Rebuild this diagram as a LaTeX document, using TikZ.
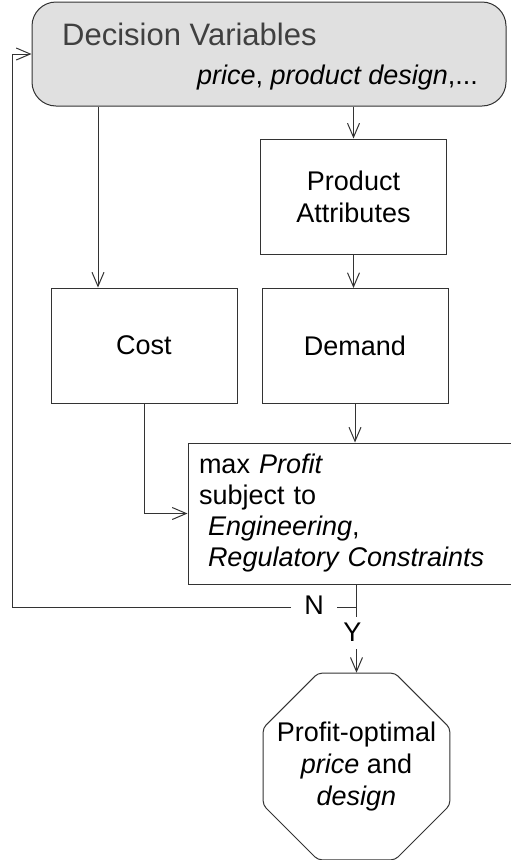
\documentclass[tikz,border=0pt]{standalone}
\usepackage{fontspec}
\setmainfont{Liberation Sans}
\usetikzlibrary{positioning,arrows.meta,shapes.geometric}

\tikzset{
  box/.style={draw=black!80, line width=1pt, rectangle, minimum width=186pt, minimum height=115pt,
    align=center, font=\fontsize{27}{32}\selectfont},
  lbl/.style={font=\fontsize{27}{32}\selectfont},
  arr/.style={draw=black!80, line width=1pt, -{Straight Barb[length=14pt,width=12pt]}},
  conn/.style={draw=black!80, line width=1pt}
}

\begin{document}
\begin{tikzpicture}[x=1pt,y=-1pt]
\useasboundingbox (0,0) rectangle (511,860);

% decision variables
\node[draw=black!80, fill=black!12, line width=1pt, rounded corners=24pt,
  minimum width=474pt, minimum height=104pt] (dv) at (269,54) {};
\node[anchor=base west, inner sep=0pt, text=black!75, font=\fontsize{31}{36}\selectfont]
  (dvtitle) at (62,45) {Decision Variables};
\node[anchor=base west, inner sep=0pt, lbl] (dvvars) at (197,84)
  {\textit{price}, \textit{product design},...};

% model boxes
\node[box] (pa) at (353.5,196.5) {Product\\Attributes};
\node[box] (cost) at (144,345.5) {Cost};
\node[box] (demand) at (355,346) {Demand};
\node[box, minimum width=328pt, minimum height=141pt, text width=306pt, inner xsep=11pt,
  align=left, font=\fontsize{27}{31}\selectfont] (maxp) at (352,513.5)
  {max \textit{Profit}\\subject to\\~\textit{Engineering},\\~\textit{Regulatory Constraints}};

% result
\node[draw=black!80, line width=1pt, regular polygon, regular polygon sides=8,
  minimum size=202pt, inner sep=0pt, rounded corners=4pt] (opt) at (356.5,766.5) {};
\node[align=center, lbl] (opttext) at (opt.center) {Profit-optimal\\\textit{price} and\\\textit{design}};

% arrows
\draw[arr] (98,0 |- dv.south) -- (98,0 |- cost.north);
\draw[arr] (pa.north |- dv.south) -- (pa.north);
\draw[arr] (pa.south) -- (pa.south |- demand.north);
\draw[arr] (demand.south) -- (demand.south |- maxp.north);
\draw[arr] (cost.south) |- (maxp.west);

% decision Y/N
\coordinate (split) at (opt.north |- 0,607);
\coordinate (back) at (12,607);
\node[lbl, inner sep=4pt] (yes) at (352.5,632) {Y};
\node[lbl, inner sep=0pt] (no) at (314,605) {N};
\draw[conn] (opt.north |- maxp.south) -- (opt.north |- 0,617);
\draw[arr] (opt.north |- 0,649) -- (opt.north);
\draw[conn] (split) -- ([xshift=13pt]split -| no.east);
\draw[arr] ([xshift=-13pt]split -| no.west) -- (back) |- (dv.west);

\end{tikzpicture}
\end{document}
